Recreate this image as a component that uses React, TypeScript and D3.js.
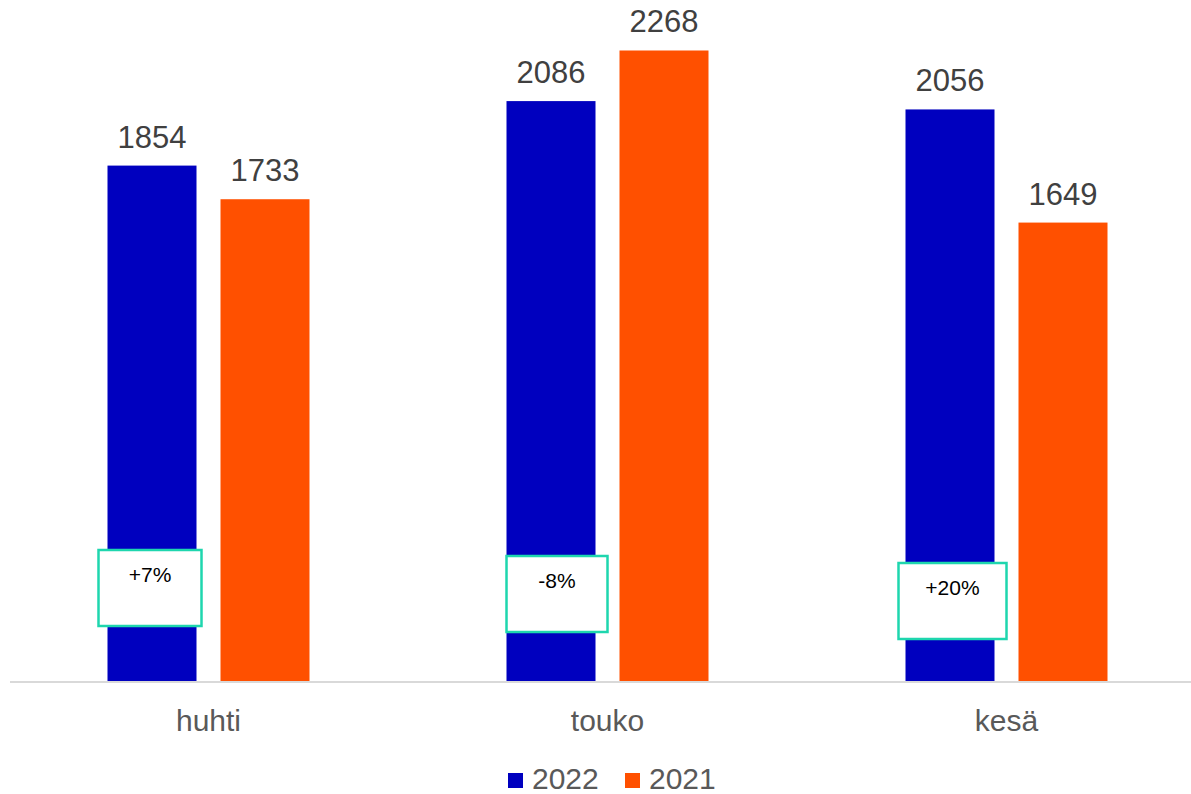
import React, { useEffect, useRef } from "react";
import * as d3 from "d3";

const months = ["huhti", "touko", "kesä"];
const seriesNames = ["2022", "2021"];
const values2022 = [1854, 2086, 2056];
const values2021 = [1733, 2268, 1649];
const changeLabels = ["+7%", "-8%", "+20%"];

const colors: Record<string, string> = { "2022": "#0000BF", "2021": "#FF5000" };

const width = 1191;
const height = 794;

export default function App() {
  const svgRef = useRef<SVGSVGElement>(null);

  useEffect(() => {
    if (!svgRef.current) return;
    const svg = d3.select(svgRef.current);
    svg.selectAll("*").remove();

    const font = "'Liberation Sans', Arial, sans-serif";
    const baseY = 681;

    const x = d3.scaleBand<string>().domain(months).range([9, 1206]).padding(0);
    const inner = d3
      .scaleBand<string>()
      .domain(seriesNames)
      .range([-101, 101])
      .paddingInner(0.2124)
      .paddingOuter(0);
    const y = d3.scaleLinear().domain([0, 2300]).range([baseY, baseY - 2300 * 0.278]);

    const rows = months.map((m, i) => ({
      month: m,
      vals: [
        { key: "2022", v: values2022[i] },
        { key: "2021", v: values2021[i] },
      ],
    }));

    const groups = svg
      .append("g")
      .selectAll("g")
      .data(rows)
      .join("g")
      .attr("transform", (d) => `translate(${x(d.month)! + x.bandwidth() / 2},0)`);

    groups
      .selectAll("rect")
      .data((d) => d.vals)
      .join("rect")
      .attr("x", (d) => inner(d.key)!)
      .attr("width", inner.bandwidth())
      .attr("y", (d) => y(d.v))
      .attr("height", (d) => y(0) - y(d.v))
      .attr("fill", (d) => colors[d.key]);

    groups
      .selectAll("text.val")
      .data((d) => d.vals)
      .join("text")
      .attr("class", "val")
      .attr("x", (d) => inner(d.key)! + inner.bandwidth() / 2)
      .attr("y", (d) => y(d.v) - 18)
      .attr("text-anchor", "middle")
      .style("font-family", font)
      .style("font-size", "31px")
      .style("fill", "#404040")
      .text((d) => d.v);

    // baseline
    svg
      .append("line")
      .attr("x1", 10)
      .attr("x2", width)
      .attr("y1", baseY + 1)
      .attr("y2", baseY + 1)
      .attr("stroke", "#d9d9d9")
      .attr("stroke-width", 2);

    // category labels
    svg
      .append("g")
      .selectAll("text")
      .data(months)
      .join("text")
      .attr("x", (d) => x(d)! + x.bandwidth() / 2)
      .attr("y", 731)
      .attr("text-anchor", "middle")
      .style("font-family", font)
      .style("font-size", "30px")
      .style("fill", "#595959")
      .text((d) => d);

    // change annotation boxes, placed over the 2022 bar of each month
    const boxTop = [550, 556, 563];
    const boxShift = [-9, 0, -7];
    const boxW = [103, 101, 108];
    const boxes = svg
      .append("g")
      .selectAll("g")
      .data(months)
      .join("g")
      .attr("transform", (d, i) => {
        const left = x(d)! + x.bandwidth() / 2 + inner("2022")!;
        return `translate(${left + boxShift[i]},${boxTop[i]})`;
      });
    boxes
      .append("rect")
      .attr("x", 0)
      .attr("y", 0)
      .attr("width", (d, i) => boxW[i])
      .attr("height", 76)
      .attr("fill", "#ffffff")
      .attr("stroke", "#1ED6AE")
      .attr("stroke-width", 2.5);
    boxes
      .append("text")
      .attr("x", (d, i) => boxW[i] / 2)
      .attr("y", 32)
      .attr("text-anchor", "middle")
      .style("font-family", font)
      .style("font-size", "21px")
      .style("fill", "#000000")
      .text((d, i) => changeLabels[i]);

    // legend
    const legend = svg
      .append("g")
      .selectAll("g")
      .data(seriesNames)
      .join("g")
      .attr("transform", (d, i) => `translate(${508 + i * 117},0)`);
    legend
      .append("rect")
      .attr("x", 0)
      .attr("y", 773)
      .attr("width", 15)
      .attr("height", 15)
      .attr("fill", (d) => colors[d]);
    legend
      .append("text")
      .attr("x", 24)
      .attr("y", 789)
      .style("font-family", font)
      .style("font-size", "30px")
      .style("fill", "#595959")
      .text((d) => d);
  }, []);

  return (
    <svg
      ref={svgRef}
      width={width}
      height={height}
      style={{ position: "absolute", left: 0, top: 0, background: "#fff" }}
    />
  );
}
